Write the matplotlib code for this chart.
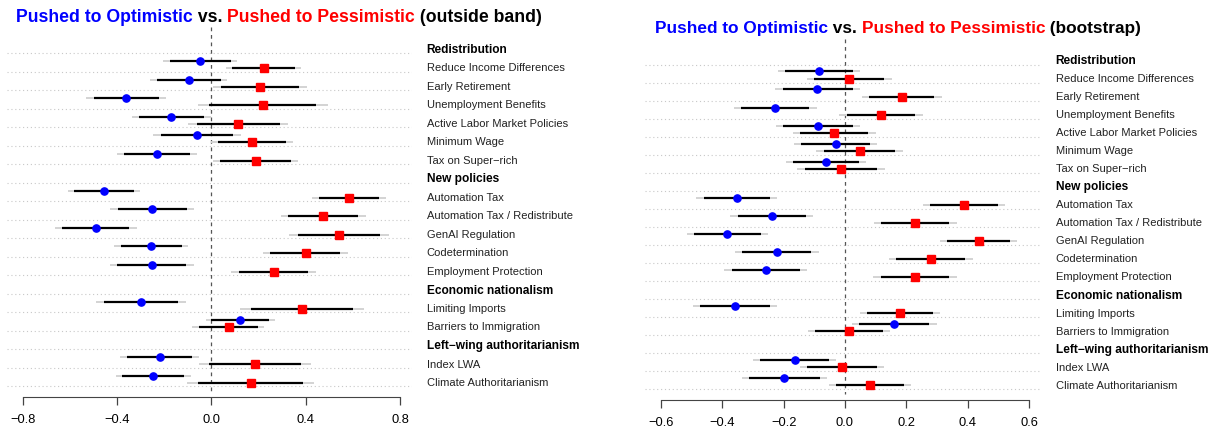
import numpy as np
import matplotlib.pyplot as plt
from matplotlib.transforms import blended_transform_factory

plt.rcParams['font.family'] = ['Liberation Sans', 'DejaVu Sans']

# --- Rótulos das linhas (cabeçalhos em negrito) ---
labels = ['Redistribution', 'Reduce Income Differences', 'Early Retirement',
          'Unemployment Benefits', 'Active Labor Market Policies', 'Minimum Wage',
          'Tax on Super\u2212rich', 'New policies', 'Automation Tax',
          'Automation Tax / Redistribute', 'GenAI Regulation', 'Codetermination',
          'Employment Protection', 'Economic nationalism', 'Limiting Imports',
          'Barriers to Immigration', 'Left\u2212wing authoritarianism', 'Index LWA',
          'Climate Authoritarianism']
headers = [0, 7, 13, 16]
items = [i for i in range(len(labels)) if i not in headers]

# --- Painel 1: outside band ---
ob_blue = [-0.047, -0.096, -0.362, -0.170, -0.059, -0.230, -0.455, -0.251, -0.490,
           -0.254, -0.253, -0.298, 0.122, -0.219, -0.246]
ob_blue_lo90 = [-0.175, -0.232, -0.499, -0.305, -0.213, -0.370, -0.581, -0.397, -0.632,
                -0.382, -0.399, -0.455, 0.000, -0.358, -0.377]
ob_blue_hi90 = [0.082, 0.040, -0.222, -0.032, 0.093, -0.090, -0.329, -0.104, -0.348,
                -0.126, -0.106, -0.140, 0.243, -0.081, -0.115]
ob_blue_lo95 = [-0.204, -0.259, -0.530, -0.335, -0.246, -0.399, -0.608, -0.428, -0.663,
                -0.411, -0.431, -0.488, -0.024, -0.387, -0.404]
ob_blue_hi95 = [0.109, 0.068, -0.193, -0.001, 0.125, -0.062, -0.304, -0.073, -0.316,
                -0.098, -0.075, -0.107, 0.269, -0.051, -0.086]
ob_red = [0.223, 0.207, 0.219, 0.112, 0.173, 0.188, 0.583, 0.472, 0.540,
          0.400, 0.265, 0.383, 0.075, 0.185, 0.168]
ob_red_lo90 = [0.089, 0.041, -0.008, -0.062, 0.027, 0.038, 0.455, 0.325, 0.366,
               0.250, 0.116, 0.167, -0.052, -0.010, -0.055]
ob_red_hi90 = [0.354, 0.373, 0.444, 0.290, 0.317, 0.337, 0.711, 0.622, 0.714,
               0.547, 0.411, 0.602, 0.198, 0.379, 0.390]
ob_red_lo95 = [0.062, 0.006, -0.058, -0.099, -0.003, 0.006, 0.428, 0.296, 0.328,
               0.219, 0.084, 0.120, -0.081, -0.054, -0.102]
ob_red_hi95 = [0.380, 0.407, 0.494, 0.327, 0.346, 0.368, 0.740, 0.655, 0.752,
               0.578, 0.443, 0.649, 0.223, 0.422, 0.437]

# --- Painel 2: bootstrap ---
bs_blue = [-0.085, -0.090, -0.228, -0.089, -0.030, -0.063, -0.353, -0.239, -0.384,
           -0.222, -0.259, -0.360, 0.159, -0.164, -0.198]
bs_blue_lo90 = [-0.196, -0.203, -0.339, -0.202, -0.142, -0.171, -0.461, -0.350, -0.492,
                -0.335, -0.369, -0.473, 0.046, -0.276, -0.312]
bs_blue_hi90 = [0.027, 0.025, -0.116, 0.025, 0.080, 0.045, -0.244, -0.128, -0.274,
                -0.110, -0.147, -0.246, 0.274, -0.051, -0.083]
bs_blue_lo95 = [-0.218, -0.228, -0.363, -0.225, -0.166, -0.193, -0.485, -0.374, -0.515,
                -0.358, -0.394, -0.497, 0.022, -0.300, -0.336]
bs_blue_hi95 = [0.050, 0.048, -0.092, 0.049, 0.104, 0.067, -0.221, -0.105, -0.251,
                -0.086, -0.123, -0.223, 0.299, -0.028, -0.059]
bs_red = [0.013, 0.185, 0.117, -0.036, 0.049, -0.013, 0.388, 0.228, 0.436,
          0.279, 0.228, 0.179, 0.012, -0.010, 0.082]
bs_red_lo90 = [-0.101, 0.077, 0.005, -0.148, -0.068, -0.131, 0.277, 0.117, 0.332,
               0.166, 0.117, 0.073, -0.097, -0.123, -0.029]
bs_red_hi90 = [0.127, 0.291, 0.229, 0.076, 0.164, 0.104, 0.499, 0.340, 0.538,
               0.392, 0.339, 0.287, 0.124, 0.103, 0.192]
bs_red_lo95 = [-0.124, 0.054, -0.019, -0.171, -0.094, -0.156, 0.254, 0.095, 0.310,
               0.142, 0.092, 0.050, -0.121, -0.147, -0.053]
bs_red_hi95 = [0.152, 0.315, 0.253, 0.100, 0.188, 0.129, 0.522, 0.364, 0.560,
               0.416, 0.364, 0.311, 0.147, 0.127, 0.216]

W, H = 1211, 431
fig = plt.figure(figsize=(W / 100, H / 100), dpi=100)


def painel(px_left, px_right, px_top, px_bottom, x0_px, px_unit, lab0, row_px,
           xticks, blue, blo90, bhi90, blo95, bhi95,
           red, rlo90, rhi90, rlo95, rhi95, off_b, off_r, off_grid, label_px):
    # eixos posicionados em pixels da figura
    ax = fig.add_axes([px_left / W, 1 - px_bottom / H,
                       (px_right - px_left) / W, (px_bottom - px_top) / H])
    ax.set_xlim((px_left - x0_px) / px_unit, (px_right - x0_px) / px_unit)
    ax.set_ylim((px_bottom - lab0) / row_px, (px_top - lab0) / row_px)
    n = len(labels)

    # linhas pontilhadas e referência em zero
    for i in range(n):
        ax.axhline(i + off_grid, color='#c8c8c8', lw=0.8, ls=(0, (1, 2.5)), zorder=1)
    ax.plot([0, 0], [(px_top - lab0) / row_px, n - 1 + 0.5], color='#555555',
            lw=0.9, ls=(0, (3, 3)), zorder=2)

    # intervalos (cinza = 95%, preto = 90%) e estimativas
    yb = np.array(items) + off_b
    yr = np.array(items) + off_r
    ax.hlines(yb, blo95, bhi95, color='#d3d3d3', lw=1.4, zorder=3)
    ax.hlines(yb, blo90, bhi90, color='black', lw=1.6, zorder=4)
    ax.hlines(yr, rlo95, rhi95, color='#d3d3d3', lw=1.4, zorder=3)
    ax.hlines(yr, rlo90, rhi90, color='black', lw=1.6, zorder=4)
    ax.plot(blue, yb, 'o', color='blue', ms=5.2, zorder=5)
    ax.plot(red, yr, 's', color='red', ms=5.6, zorder=5)

    # rótulos à direita
    tr = blended_transform_factory(fig.transFigure, ax.transData)
    for i, lab in enumerate(labels):
        bold = i in headers
        ax.text(label_px / W, i, lab, transform=tr, ha='left', va='center',
                fontsize=8.6 if bold else 8, fontweight='bold' if bold else 'normal',
                color='black' if bold else '#222222', clip_on=False)

    for s in ['top', 'right', 'left']:
        ax.spines[s].set_visible(False)
    ax.spines['bottom'].set_bounds(xticks[0], xticks[-1])
    ax.spines['bottom'].set_color('#444444')
    ax.set_yticks([])
    ax.set_xticks(xticks)
    ax.set_xticklabels([f'{t:.1f}'.replace('-', '\u2212') for t in xticks])
    ax.tick_params(axis='x', direction='out', length=5.5, width=0.9, color='#444444',
                   labelsize=9.3, pad=6)
    return ax


ax1 = painel(7, 412, 28, 397.7, 211.3, 235.8, 50, 18.5, [-0.8, -0.4, 0.0, 0.4, 0.8],
             ob_blue, ob_blue_lo90, ob_blue_hi90, ob_blue_lo95, ob_blue_hi95,
             ob_red, ob_red_lo90, ob_red_hi90, ob_red_lo95, ob_red_hi95,
             -0.35, 0.05, 0.22, 426.7)
ax2 = painel(645, 1041, 40, 400.7, 845, 306.7, 61, 18.04,
             [-0.6, -0.4, -0.2, 0.0, 0.2, 0.4, 0.6],
             bs_blue, bs_blue_lo90, bs_blue_hi90, bs_blue_lo95, bs_blue_hi95,
             bs_red, bs_red_lo90, bs_red_hi90, bs_red_lo95, bs_red_hi95,
             -0.366, 0.04, 0.26, 1055.7)


def titulo(ax, x_px, base_px, suffix, fs):
    # título em partes coloridas, encadeadas uma após a outra
    partes = [('Pushed to Optimistic', 'blue'), (' vs. ', 'black'),
              ('Pushed to Pessimistic', 'red'), (suffix, 'black')]
    prev = None
    for txt, c in partes:
        if prev is None:
            prev = fig.text(x_px / W, 1 - base_px / H, txt, color=c, fontsize=fs,
                            fontweight='bold', va='baseline', ha='left')
        else:
            prev = ax.annotate(txt, xy=(1, 0), xycoords=prev, va='bottom', ha='left',
                               color=c, fontsize=fs, fontweight='bold',
                               annotation_clip=False)


titulo(ax1, 16, 22, ' (outside band)', 12.7)
titulo(ax2, 655, 33, ' (bootstrap)', 12.45)

fig.savefig('out.png', dpi=100)
